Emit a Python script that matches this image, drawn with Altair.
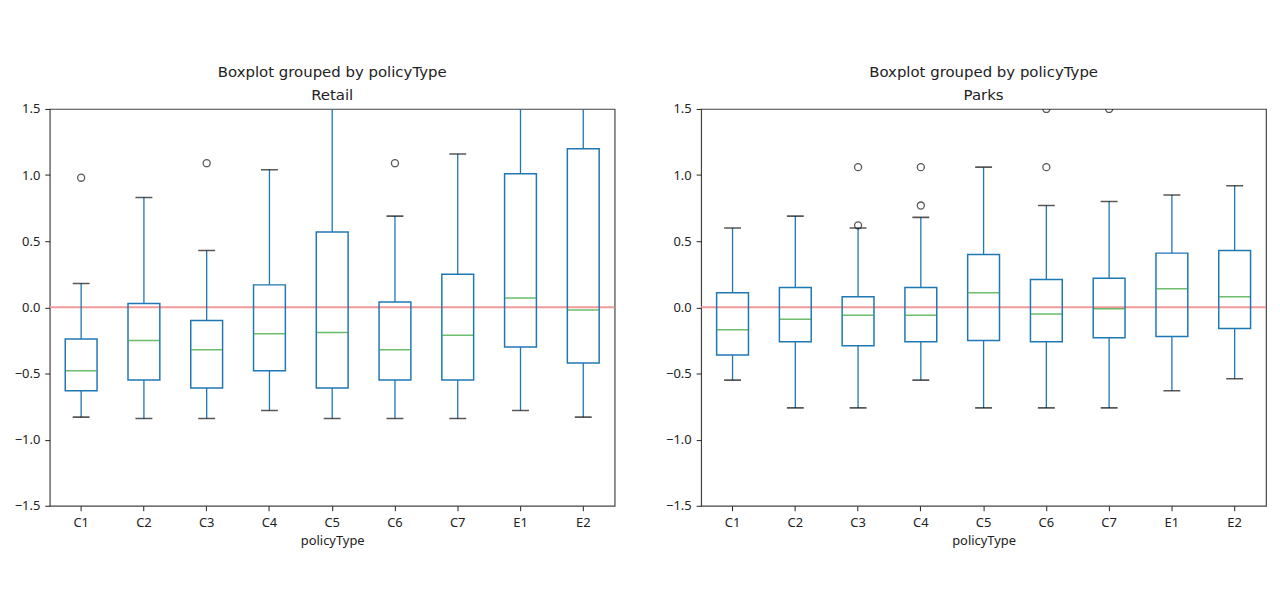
import altair as alt
import pandas as pd

categories = ["C1", "C2", "C3", "C4", "C5", "C6", "C7", "E1", "E2"]

# Retail panel
retail_lo  = [-0.83, -0.84, -0.84, -0.78, -0.84, -0.84, -0.84, -0.78, -0.83]
retail_q1  = [-0.63, -0.55, -0.61, -0.48, -0.61, -0.55, -0.55, -0.30, -0.42]
retail_med = [-0.48, -0.25, -0.32, -0.20, -0.19, -0.32, -0.21, 0.07, -0.02]
retail_q3  = [-0.24, 0.03, -0.10, 0.17, 0.57, 0.04, 0.25, 1.01, 1.20]
retail_hi  = [0.18, 0.83, 0.43, 1.04, 2.00, 0.69, 1.16, 2.00, 2.00]
retail_out_cat = ["C1", "C3", "C6"]
retail_out_val = [0.98, 1.09, 1.09]

# Parks panel
parks_lo  = [-0.55, -0.76, -0.76, -0.55, -0.76, -0.76, -0.76, -0.63, -0.54]
parks_q1  = [-0.36, -0.26, -0.29, -0.26, -0.25, -0.26, -0.23, -0.22, -0.16]
parks_med = [-0.17, -0.09, -0.06, -0.06, 0.11, -0.05, -0.01, 0.14, 0.08]
parks_q3  = [0.11, 0.15, 0.08, 0.15, 0.40, 0.21, 0.22, 0.41, 0.43]
parks_hi  = [0.60, 0.69, 0.60, 0.68, 1.06, 0.77, 0.80, 0.85, 0.92]
parks_out_cat = ["C3", "C3", "C4", "C4", "C6", "C6", "C7"]
parks_out_val = [0.62, 1.06, 0.77, 1.06, 1.06, 1.50, 1.50]

BLUE = "#1f77b4"
GREEN = "#2ca02c"


def panel(name, lo, q1, med, q3, hi, out_cat, out_val):
    df = pd.DataFrame({"policyType": categories, "lo": lo, "q1": q1,
                       "med": med, "q3": q3, "hi": hi})
    odf = pd.DataFrame({"policyType": out_cat, "value": out_val})

    x = alt.X("policyType:N", sort=categories, title="policyType",
              scale=alt.Scale(paddingInner=0, paddingOuter=0),
              axis=alt.Axis(labelAngle=0, domain=False, tickColor="#222",
                            tickSize=5, labelFont="Noto Sans", labelFontSize=13,
                            labelColor="#222", titleFont="Noto Sans",
                            titleFontSize=13, titleFontWeight="normal",
                            titleColor="#222", labelPadding=6, titlePadding=5))
    yscale = alt.Scale(domain=[-1.5, 1.5], nice=False, zero=False)
    yaxis = alt.Axis(values=[-1.5, -1.0, -0.5, 0.0, 0.5, 1.0, 1.5], format=".1f",
                     domain=False, grid=False, tickColor="#222", tickSize=5,
                     labelFont="Noto Sans", labelFontSize=13, labelColor="#222",
                     title=None, labelPadding=5)

    base = alt.Chart(df)
    zero = alt.Chart(pd.DataFrame({"z": [0]})).mark_rule(
        color="#f29a9a", strokeWidth=2, clip=True).encode(
        y=alt.Y("z:Q", scale=yscale, axis=yaxis))
    wlow = base.mark_rule(color=BLUE, strokeWidth=1.3, clip=True).encode(
        x=x, y=alt.Y("lo:Q", scale=yscale, axis=yaxis), y2="q1:Q")
    whigh = base.mark_rule(color=BLUE, strokeWidth=1.3, clip=True).encode(
        x=x, y=alt.Y("q3:Q"), y2="hi:Q")
    box = base.mark_bar(fill=None, stroke=BLUE, strokeWidth=1.5, size=32,
                        clip=True).encode(x=x, y="q1:Q", y2="q3:Q")
    medt = base.mark_tick(color=GREEN, thickness=1.5, size=31,
                          orient="horizontal", clip=True).encode(x=x, y="med:Q")
    capl = base.mark_tick(color="#111", thickness=1.6, size=17,
                          orient="horizontal", clip=True).encode(x=x, y="lo:Q")
    caph = base.mark_tick(color="#111", thickness=1.6, size=17,
                          orient="horizontal", clip=True).encode(x=x, y="hi:Q")
    outl = alt.Chart(odf).mark_point(shape="circle", filled=False, color="#111",
                                     size=50, strokeWidth=1.3, clip=True).encode(
        x=alt.X("policyType:N", sort=categories), y="value:Q")

    return alt.layer(zero, wlow, whigh, box, medt, capl, caph, outl).properties(
        width=568, height=399,
        title=alt.TitleParams(text=["Boxplot grouped by policyType", name],
                              font="DejaVu Sans", fontSize=15,
                              fontWeight="normal", color="#222",
                              lineHeight=23, offset=0, anchor="middle"))


chart = alt.hconcat(
    panel("Retail", retail_lo, retail_q1, retail_med, retail_q3, retail_hi,
          retail_out_cat, retail_out_val),
    panel("Parks", parks_lo, parks_q1, parks_med, parks_q3, parks_hi,
          parks_out_cat, parks_out_val),
    spacing=49,
).resolve_scale(x="independent", y="independent").configure_view(
    stroke="#444", strokeWidth=1.2
).properties(padding={"left": 5, "top": 55, "right": 5, "bottom": 5})

chart.save("out.html", embed_options={"renderer": "svg", "actions": False})
